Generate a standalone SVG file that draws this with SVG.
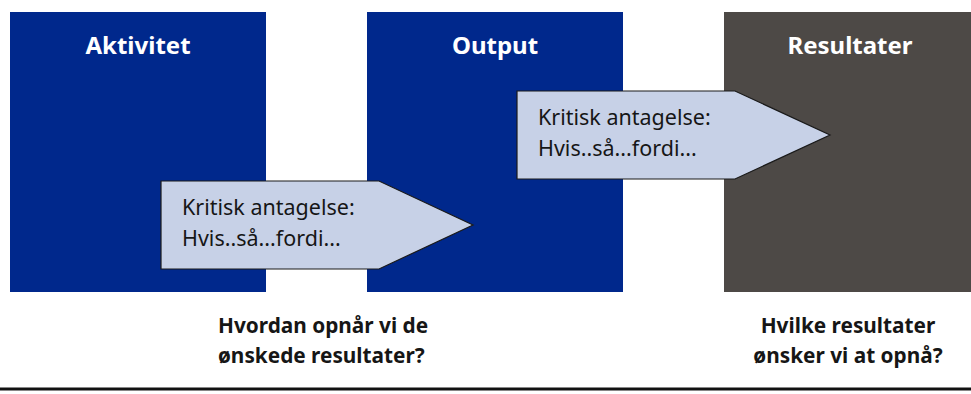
<svg xmlns="http://www.w3.org/2000/svg" width="971" height="394" viewBox="0 0 971 394">
<style>
.box{stroke:none}
.blue{fill:#00288c}
.gray{fill:#4d4946}
.head{font-family:"Noto Sans","Liberation Sans",sans-serif;font-weight:bold;font-size:24px;fill:#ffffff;text-anchor:middle}
.arrow{fill:#c7d1e7;stroke:#1a1a1a;stroke-width:1.2}
.atext{font-family:"Noto Sans","Liberation Sans",sans-serif;font-size:21.5px;fill:#161616}
.q{font-family:"Noto Sans","Liberation Sans",sans-serif;font-weight:bold;font-size:20.8px;fill:#161616}
</style>
<rect width="971" height="394" fill="#ffffff"/>
<g id="aktivitet">
<rect class="box blue" x="10" y="12" width="256" height="280"/>
<text class="head" x="138" y="54">Aktivitet</text>
</g>
<g id="output">
<rect class="box blue" x="367" y="12" width="256" height="280"/>
<text class="head" x="495" y="54">Output</text>
</g>
<g id="resultater">
<rect class="box gray" x="724" y="12" width="247" height="280"/>
<text class="head" x="850" y="54">Resultater</text>
</g>
<g id="connectors">
<g id="antagelse1">
<polygon class="arrow" points="161,181 379,181 473,225 379,269 161,269"/>
<text class="atext" x="182" y="215">Kritisk antagelse:</text>
<text class="atext" x="182" y="246">Hvis..så...fordi...</text>
</g>
<g id="antagelse2">
<polygon class="arrow" points="517,91 735,91 830,135 735,179 517,179"/>
<text class="atext" x="538" y="125">Kritisk antagelse:</text>
<text class="atext" x="538" y="156">Hvis..så...fordi...</text>
</g>
</g>
<g id="sporgsmaal1">
<text class="q" x="218" y="333">Hvordan opnår vi de</text>
<text class="q" x="218" y="363">ønskede resultater?</text>
</g>
<g id="sporgsmaal2">
<text class="q" x="848" y="333" text-anchor="middle">Hvilke resultater</text>
<text class="q" x="848" y="363" text-anchor="middle">ønsker vi at opnå?</text>
</g>
<line x1="0" y1="389" x2="971" y2="389" stroke="#111111" stroke-width="3"/>
</svg>
